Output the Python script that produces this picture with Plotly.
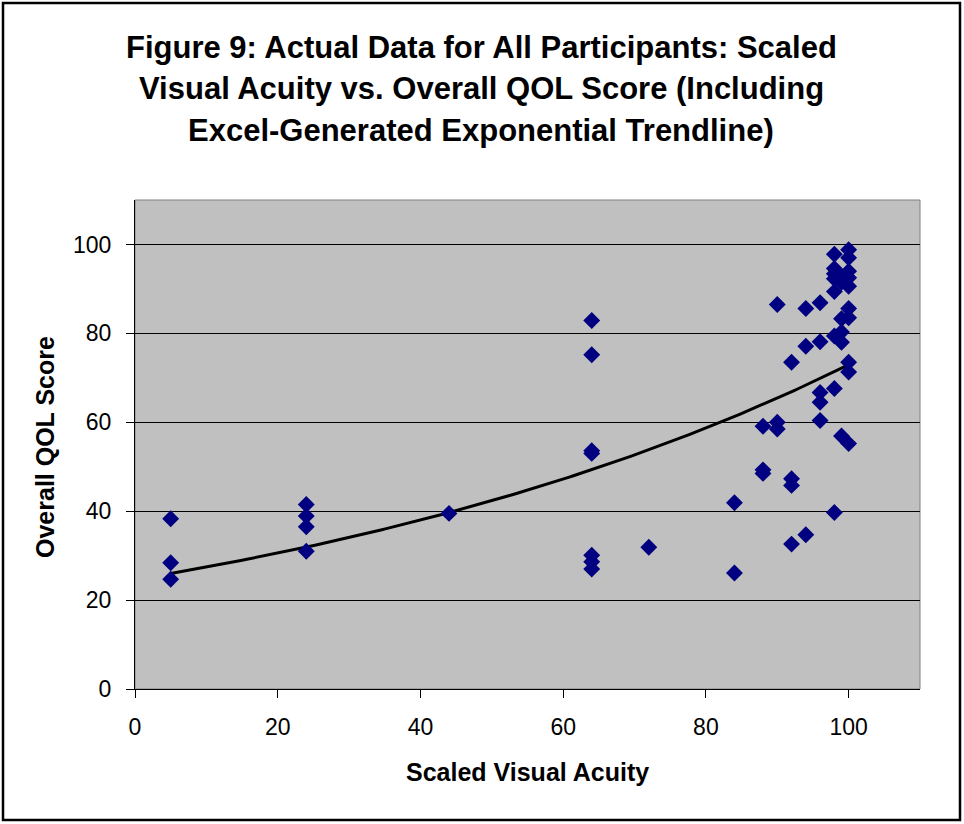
import numpy as np
import plotly.graph_objects as go

# Scaled visual acuity (x) and overall QOL score (y) per participant
acuity = [5, 5, 5,
          24, 24, 24, 24,
          44,
          64, 64, 64, 64, 64, 64, 64,
          72,
          84, 84,
          88, 88, 88,
          90, 90, 90,
          92, 92, 92, 92,
          94, 94, 94,
          96, 96, 96, 96, 96,
          98, 98, 98, 98, 98, 98, 98, 98,
          99, 99, 99, 99, 99, 99,
          100, 100, 100, 100, 100, 100, 100, 100, 100, 100]
qol = [38.3, 28.4, 24.7,
       41.5, 38.9, 36.5, 31.0,
       39.5,
       82.9, 75.2, 53.6, 53.0, 30.1, 28.6, 27.0,
       31.9,
       41.9, 26.1,
       59.1, 49.3, 48.5,
       86.5, 60.0, 58.5,
       73.5, 47.3, 45.8, 32.6,
       85.6, 77.1, 34.7,
       86.9, 78.1, 66.7, 64.5, 60.4,
       97.8, 94.6, 93.4, 92.3, 89.4, 79.4, 67.6, 39.7,
       92.8, 91.5, 83.3, 80.3, 78.0, 56.9,
       98.8, 97.0, 94.0, 92.5, 90.6, 85.6, 83.5, 73.5, 71.3, 55.2]

x_ticks = [0, 20, 40, 60, 80, 100]
y_ticks = [0, 20, 40, 60, 80, 100]

# Excel exponential trendline y = a * exp(b * x), coefficients
trend_a = 24.6
trend_b = 0.01087

title_lines = ["Figure 9: Actual Data for All Participants: Scaled",
               "Visual Acuity vs. Overall QOL Score (Including",
               "Excel-Generated Exponential Trendline)"]

trend_x = np.linspace(min(acuity), max(acuity), 200)
trend_y = trend_a * np.exp(trend_b * trend_x)

FONT = "Liberation Sans, Arial, sans-serif"

fig = go.Figure()
fig.add_trace(go.Scatter(x=trend_x, y=trend_y, mode="lines",
                         line=dict(color="black", width=3), hoverinfo="skip"))
fig.add_trace(go.Scatter(x=acuity, y=qol, mode="markers",
                         marker=dict(symbol="diamond", size=13, color="#000080",
                                     line=dict(width=0))))

L, R, T, B = 135, 44, 200, 135
W, H = 964, 824
pw, ph = W - L - R, H - T - B

def px(xp):
    return (xp - L) / pw

def py(yp):
    return (H - B - yp) / ph

annotations = []
for txt, yc in zip(title_lines, [47, 89, 131]):
    annotations.append(dict(text="<b>" + txt + "</b>", x=px(481), y=py(yc),
                            xref="paper", yref="paper", showarrow=False,
                            xanchor="center", yanchor="middle",
                            font=dict(family=FONT, size=31, color="black")))
annotations.append(dict(text="<b>Scaled Visual Acuity</b>", x=px(527), y=py(772),
                        xref="paper", yref="paper", showarrow=False,
                        xanchor="center", yanchor="middle",
                        font=dict(family=FONT, size=25, color="black")))
annotations.append(dict(text="<b>Overall QOL Score</b>", x=px(45), y=py(447),
                        xref="paper", yref="paper", showarrow=False, textangle=-90,
                        xanchor="center", yanchor="middle",
                        font=dict(family=FONT, size=25, color="black")))

shapes = [
    dict(type="rect", xref="paper", yref="paper", x0=0, x1=1, y0=0, y1=1,
         line=dict(color="#808080", width=1), layer="below"),
    dict(type="rect", xref="paper", yref="paper",
         x0=px(3), x1=px(960), y0=py(820), y1=py(3),
         line=dict(color="black", width=2.5)),
]

fig.update_layout(
    width=W, height=H,
    margin=dict(l=L, r=R, t=T, b=B),
    paper_bgcolor="white", plot_bgcolor="#C0C0C0",
    showlegend=False,
    annotations=annotations, shapes=shapes,
    font=dict(family=FONT, color="black"),
    xaxis=dict(range=[0, 110], tickvals=x_ticks, showgrid=False, zeroline=False,
               showline=True, linecolor="black", linewidth=1,
               ticks="outside", ticklen=8, tickcolor="black",
               ticklabelstandoff=9,
               tickfont=dict(family=FONT, size=23, color="black")),
    yaxis=dict(range=[0, 110], tickvals=y_ticks, showgrid=True, gridcolor="black",
               gridwidth=1, zeroline=False,
               showline=True, linecolor="black", linewidth=1,
               ticks="outside", ticklen=8, tickcolor="black",
               ticklabelstandoff=10,
               tickfont=dict(family=FONT, size=23, color="black")),
)

fig.write_html("out.html")
